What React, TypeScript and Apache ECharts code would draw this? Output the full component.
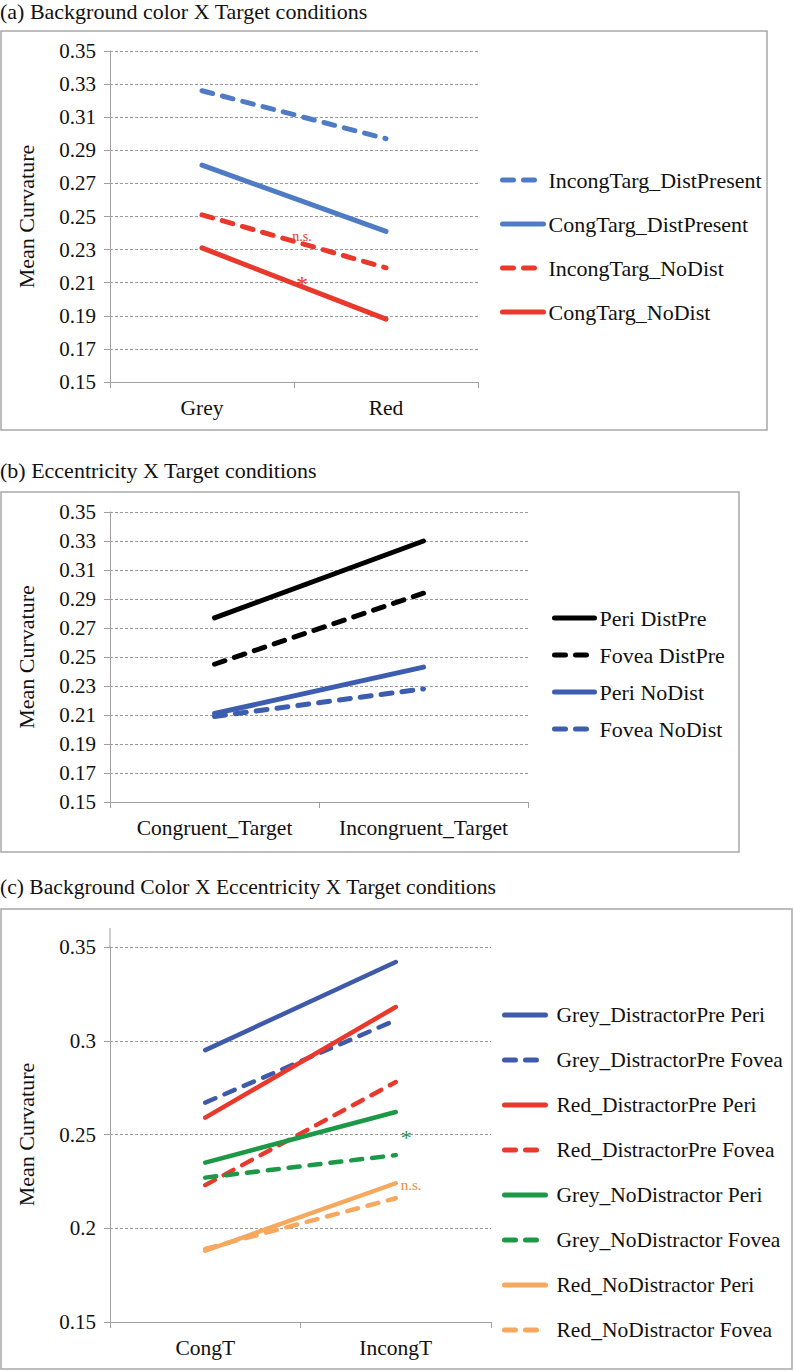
import React, { useEffect, useRef } from "react";
import * as echarts from "echarts";

const FONT = "Liberation Serif";

// Panel (a)
const titleA = "(a) Background color X Target conditions";
const catsA = ["Grey", "Red"];
const namesA = ["IncongTarg_DistPresent", "CongTarg_DistPresent", "IncongTarg_NoDist", "CongTarg_NoDist"];
const aIncongDist = [0.326, 0.297];
const aCongDist = [0.281, 0.241];
const aIncongNo = [0.251, 0.219];
const aCongNo = [0.231, 0.188];
const notesA = [
  { text: "n.s.", y: 0.238, size: 14 },
  { text: "*", y: 0.209, size: 24 },
];

// Panel (b)
const titleB = "(b) Eccentricity X Target conditions";
const catsB = ["Congruent_Target", "Incongruent_Target"];
const namesB = ["Peri DistPre", "Fovea DistPre", "Peri NoDist", "Fovea NoDist"];
const bPeriDist = [0.277, 0.33];
const bFoveaDist = [0.245, 0.294];
const bPeriNo = [0.211, 0.243];
const bFoveaNo = [0.209, 0.228];

// Panel (c)
const titleC = "(c) Background Color X Eccentricity X Target conditions";
const catsC = ["CongT", "IncongT"];
const namesC = [
  "Grey_DistractorPre Peri",
  "Grey_DistractorPre Fovea",
  "Red_DistractorPre Peri",
  "Red_DistractorPre Fovea",
  "Grey_NoDistractor Peri",
  "Grey_NoDistractor Fovea",
  "Red_NoDistractor Peri",
  "Red_NoDistractor Fovea",
];
const cGreyDistPeri = [0.295, 0.342];
const cGreyDistFovea = [0.267, 0.311];
const cRedDistPeri = [0.259, 0.318];
const cRedDistFovea = [0.223, 0.278];
const cGreyNoPeri = [0.235, 0.262];
const cGreyNoFovea = [0.227, 0.239];
const cRedNoPeri = [0.188, 0.224];
const cRedNoFovea = [0.189, 0.216];
const notesC = [
  { text: "*", y: 0.2485, size: 22, color: "#1d9847" },
  { text: "n.s.", y: 0.223, size: 15, color: "#ef8a3c" },
];

const BLUE_A = "#4f7bc5";
const RED = "#e8392c";
const BLUE_B = "#3d5db0";
const BLUE_C = "#3f5aa9";
const GREEN = "#1d9847";
const ORANGE = "#f6a85e";

const DASH = [11, 10];

function line(name: string, data: number[], color: string, dashed: boolean, idx: number, width = 4.5) {
  return {
    type: "line",
    name,
    data,
    xAxisIndex: idx,
    yAxisIndex: idx,
    symbol: "none",
    showSymbol: false,
    lineStyle: { color, width, type: dashed ? DASH : "solid", cap: "round" },
    itemStyle: { color },
    z: 3,
  };
}

function xAxis(idx: number, cats: string[]) {
  return {
    type: "category",
    gridIndex: idx,
    data: cats,
    boundaryGap: true,
    axisLine: { lineStyle: { color: "#a0a0a0", width: 1 } },
    axisTick: { show: true, length: 6, interval: 0, lineStyle: { color: "#a0a0a0" } },
    axisLabel: { interval: 0, hideOverlap: false, fontFamily: FONT, fontSize: 21.5, color: "#111", margin: 15 },
  };
}

function yAxis(idx: number, interval: number, max: number, fmt?: (v: number) => string) {
  return {
    type: "value",
    gridIndex: idx,
    min: 0.15,
    max,
    interval,
    name: "Mean Curvature",
    nameLocation: "middle",
    nameGap: 73,
    nameTextStyle: { fontFamily: FONT, fontSize: 22, color: "#111" },
    axisLine: { show: true, lineStyle: { color: "#a0a0a0", width: 1 } },
    axisTick: { show: true, length: 6, lineStyle: { color: "#a0a0a0" } },
    axisLabel: { fontFamily: FONT, fontSize: 21, color: "#111", margin: 14, formatter: fmt },
    splitLine: { show: true, lineStyle: { color: "#9a9a9a", width: 1, type: [3, 2] } },
  };
}

function legend(names: string[], left: number, top: number, gap: number, width: number, textPad: number, size: number, lw: number) {
  return {
    data: names,
    orient: "vertical",
    left,
    top,
    padding: 0,
    itemGap: gap,
    itemWidth: width,
    itemHeight: 14,
    selectedMode: false,
    itemStyle: { color: "rgba(0,0,0,0)", borderColor: "rgba(0,0,0,0)", borderWidth: 0 },
    lineStyle: { width: lw },
    textStyle: { fontFamily: FONT, fontSize: size, color: "#111", padding: [0, 0, 0, textPad] },
  };
}

export default function App() {
  const ref = useRef<HTMLDivElement>(null);
  useEffect(() => {
    document.body.style.margin = "0";
    const chart = echarts.init(ref.current!, undefined, { renderer: "svg" });
    const fmt2 = (v: number) => v.toFixed(2);
    const ts = (size: number) => ({ fontFamily: FONT, fontSize: size, fontWeight: "normal", color: "#111" });
    chart.setOption({
      animation: false,
      backgroundColor: "#fff",
      title: [
        { text: titleA, left: 0, top: 0, padding: 0, textStyle: ts(22) },
        { text: titleB, left: 0, top: 459, padding: 0, textStyle: ts(22) },
        { text: titleC, left: 0, top: 876, padding: 0, textStyle: ts(21.6) },
      ],
      grid: [
        { left: 110, top: 51, width: 368, height: 331 },
        { left: 110, top: 512, width: 418, height: 290 },
        { left: 110, top: 947, width: 381, height: 375 },
      ],
      xAxis: [xAxis(0, catsA), xAxis(1, catsB), xAxis(2, catsC)],
      yAxis: [yAxis(0, 0.02, 0.35, fmt2), yAxis(1, 0.02, 0.35, fmt2), yAxis(2, 0.05, 0.35)],
      legend: [
        legend(namesA, 500, 169, 22, 41, 0, 22, 5),
        legend(namesB, 552, 607, 15, 40, 0, 22, 5),
        legend(namesC, 502, 1004, 23, 41, 6, 21.5, 5),
      ],
      series: [
        line(namesA[0], aIncongDist, BLUE_A, true, 0, 5),
        line(namesA[1], aCongDist, BLUE_A, false, 0, 5),
        line(namesA[2], aIncongNo, RED, true, 0, 5),
        line(namesA[3], aCongNo, RED, false, 0, 5),
        line(namesB[0], bPeriDist, "#000", false, 1, 5),
        line(namesB[1], bFoveaDist, "#000", true, 1, 5),
        line(namesB[2], bPeriNo, BLUE_B, false, 1, 5),
        line(namesB[3], bFoveaNo, BLUE_B, true, 1, 5),
        line(namesC[0], cGreyDistPeri, BLUE_C, false, 2),
        line(namesC[1], cGreyDistFovea, BLUE_C, true, 2),
        line(namesC[2], cRedDistPeri, RED, false, 2),
        line(namesC[3], cRedDistFovea, RED, true, 2),
        line(namesC[4], cGreyNoPeri, GREEN, false, 2),
        line(namesC[5], cGreyNoFovea, GREEN, true, 2),
        line(namesC[6], cRedNoPeri, ORANGE, false, 2),
        line(namesC[7], cRedNoFovea, ORANGE, true, 2),
      ],
    });

    // annotations and frames positioned through the chart's own scales
    const px = (idx: number, cat: string, v: number) =>
      chart.convertToPixel({ xAxisIndex: idx, yAxisIndex: idx } as any, [cat, v]) as number[];
    const graphics: any[] = [];
    const frame = (x: number, y: number, w: number, h: number) => ({
      type: "rect",
      shape: { x, y, width: w, height: h },
      style: { fill: "none", stroke: "#a8a8a8", lineWidth: 1.5 },
      silent: true,
      z: 0,
    });
    graphics.push(frame(1, 31, 766, 399));
    graphics.push(frame(1, 492, 738, 360));
    graphics.push(frame(1, 909, 791, 460));

    notesA.forEach((n) => {
      const p0 = px(0, catsA[0], n.y);
      const p1 = px(0, catsA[1], n.y);
      graphics.push({
        type: "text",
        x: (p0[0] + p1[0]) / 2 + 8,
        y: p0[1],
        style: { text: n.text, fill: RED, font: `${n.size}px '${FONT}'`, align: "center", verticalAlign: "middle" },
        z: 10,
      });
    });
    notesC.forEach((n) => {
      const p = px(2, catsC[1], n.y);
      graphics.push({
        type: "text",
        x: p[0] + 5,
        y: p[1],
        style: { text: n.text, fill: n.color, font: `${n.size}px '${FONT}'`, align: "left", verticalAlign: "middle" },
        z: 10,
      });
    });
    // y-axis line of panel (c) continues a little above the top gridline
    const top = px(2, catsC[0], 0.35);
    graphics.push({
      type: "line",
      shape: { x1: 110, y1: top[1] - 19, x2: 110, y2: top[1] },
      style: { stroke: "#a0a0a0", lineWidth: 1 },
      silent: true,
    });
    chart.setOption({ graphic: graphics });

    return () => chart.dispose();
  }, []);
  return <div ref={ref} style={{ position: "absolute", left: 0, top: 0, width: 794, height: 1371 }} />;
}
